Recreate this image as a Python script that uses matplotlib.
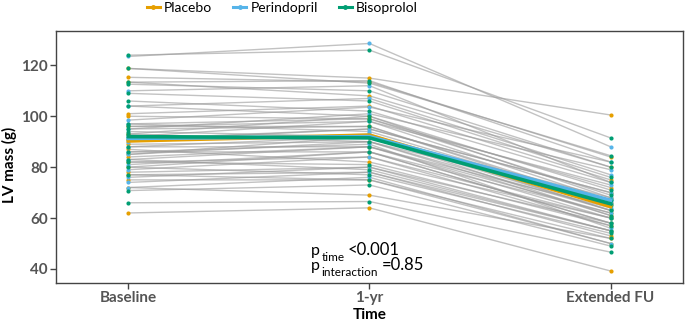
import numpy as np
import matplotlib
matplotlib.use("Agg")
import matplotlib.pyplot as plt
from matplotlib.lines import Line2D

# time points
timepoints = ["Baseline", "1-yr", "Extended FU"]

# individual subjects (baseline, 1-yr, extended FU)
placebo_base = [118.8, 115.3, 113.4, 101, 100, 90.5, 89, 87, 84, 80, 78, 77, 75, 62, 96, 93, 85, 82, 72]
placebo_1yr = [115, 113.5, 108, 104, 99, 95, 90, 82, 88, 86, 80, 78, 75, 64, 96, 100, 92, 84, 69]
placebo_efu = [100.5, 84, 80, 75, 72, 70, 63, 60, 62, 58, 55, 53, 50, 39.2, 66, 68, 61, 57, 52]

perin_base = [123.5, 98.5, 95, 92, 91, 88, 85, 83, 81, 79, 76, 74, 104, 110, 97, 86, 72, 90]
perin_1yr = [128.6, 103.6, 101, 98, 95, 92, 90, 88, 86, 84, 80, 78, 107, 112, 94, 89, 76, 93]
perin_efu = [88, 82, 79, 73, 70, 68, 67, 64, 62, 60, 58, 55, 77, 74, 66, 56, 50, 63]

biso_base = [124, 118.8, 113.4, 112.6, 109, 106, 104, 97, 96, 95, 94, 93, 88, 86, 83, 80, 77, 70.8, 66, 82]
biso_1yr = [126, 113, 114, 110, 106, 102, 100, 99, 98, 96, 92, 90, 88, 86, 79, 77, 75, 73, 66.5, 81]
biso_efu = [91.5, 84.5, 82, 80, 76, 74, 71, 69, 67, 65, 63, 61, 60, 58, 55, 54, 52, 49, 46.6, 57]

# group means
placebo_mean = [90.3, 92.6, 64.5]
perin_mean = [91.3, 92.0, 67.0]
biso_mean = [92.0, 91.5, 65.6]

groups = ["Placebo", "Perindopril", "Bisoprolol"]
colors = ["#E69F00", "#56B4E9", "#009E73"]

plt.rcParams["font.family"] = ["Lato", "DejaVu Sans"]

fig = plt.figure(figsize=(6.85, 3.23), dpi=100)
ax = fig.add_axes([0.0818, 0.124, 0.9152, 0.780])

x = np.arange(len(timepoints))
data = [
    (placebo_base, placebo_1yr, placebo_efu),
    (perin_base, perin_1yr, perin_efu),
    (biso_base, biso_1yr, biso_efu),
]

# grey spaghetti lines
for base, yr, efu in data:
    for vals in zip(base, yr, efu):
        ax.plot(x, vals, color="#9a9a9a", lw=1, alpha=0.6, zorder=1)

# points
for (base, yr, efu), c in zip(data, colors):
    for i, col in enumerate((base, yr, efu)):
        ax.scatter(np.full(len(col), x[i]), col, s=9, color=c, zorder=3, linewidths=0)

# mean lines
for m, c in zip([placebo_mean, perin_mean, biso_mean], colors):
    ax.plot(x, m, color=c, lw=2.6, zorder=4)

ax.set_xlim(-0.3, 2.3)
ax.set_ylim(34.5, 133.5)
ax.set_xticks(x)
ax.set_xticklabels(timepoints)
ax.set_yticks([40, 60, 80, 100, 120])
for s in ax.spines.values():
    s.set_color("#444444")
    s.set_linewidth(1)
ax.tick_params(colors="#444444", length=4, width=1, labelsize=11, pad=2)
for lab in ax.get_xticklabels() + ax.get_yticklabels():
    lab.set_fontweight("bold")
    lab.set_color("#555555")

ax.set_xlabel("Time", fontsize=11, fontweight="bold", labelpad=2)
ax.set_ylabel("LV mass (g)", fontsize=11, fontweight="bold")
ax.yaxis.set_label_coords(-0.062, 0.47)

# p-value annotation, subscripts as separate small texts
ax.text(0.758, 45.3, "p", fontsize=11.5, ha="left", va="baseline")
ax.text(0.800, 43.2, "time", fontsize=8.5, ha="left", va="baseline")
ax.text(0.911, 45.3, "<0.001", fontsize=12, ha="left", va="baseline")
ax.text(0.758, 39.4, "p", fontsize=11.5, ha="left", va="baseline")
ax.text(0.800, 37.3, "interaction", fontsize=8.5, ha="left", va="baseline")
ax.text(1.052, 39.4, "=0.85", fontsize=12, ha="left", va="baseline")

handles = [Line2D([0], [0], color=c, lw=2.2, marker="o", markersize=2.5) for c in colors]
fig.legend(handles, groups, loc="center", bbox_to_anchor=(0.412, 0.975), ncol=3,
           frameon=False, fontsize=10, handlelength=0.95, handletextpad=0.3, columnspacing=1.5,
           borderpad=0)

plt.savefig("out.png", dpi=100)
